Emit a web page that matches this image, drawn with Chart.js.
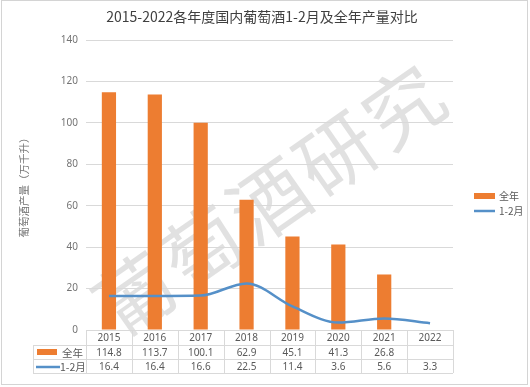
<!DOCTYPE html>
<html lang="zh">
<head>
<meta charset="UTF-8">
<title>2015-2022各年度国内葡萄酒1-2月及全年产量对比</title>
<script src="https://cdn.jsdelivr.net/npm/chart.js"></script>
    <style>
        * {
        margin: 0;
        padding: 0;
        box-sizing: border-box;
        }

        body {
        width: 530px;
        height: 387px;
        background: #fff;
        overflow: hidden;
        position: relative;
        }

        .frame {
        position: absolute;
        left: 1px;
        top: 0;
        width: 527px;
        height: 385px;
        border: 1px solid #d4d4d4;
        }

        .mark {
        position: absolute;
        left: 268px;
        top: 196px;
        transform: translate(-50%, -50%) rotate(-35deg);
        font-family: 'Noto Sans CJK SC', sans-serif;
        font-size: 78px;
        letter-spacing: 4px;
        color: rgba(195, 195, 195, 0.5);
        white-space: nowrap;
        }

        canvas {
        position: absolute;
        left: 0;
        top: 0;
        }
    </style>
</head>
<body>
    <div class="frame"></div>
    <div class="mark">葡萄酒研究</div>
    <canvas id="chart" width="530" height="387"></canvas>

    <script>
        const title = '2015-2022各年度国内葡萄酒1-2月及全年产量对比';
        const years = ['2015', '2016', '2017', '2018', '2019', '2020', '2021', '2022'];
        const fullYear = [114.8, 113.7, 100.1, 62.9, 45.1, 41.3, 26.8, null];
        const janFeb = [16.4, 16.4, 16.6, 22.5, 11.4, 3.6, 5.6, 3.3];
        const yTicks = [0, 20, 40, 60, 80, 100, 120, 140];

        const orange = '#ed7d31';
        const blue = '#5590c8';
        const gridColor = '#d9d9d9';
        const textColor = '#595959';
        const tickColor = '#747474';
        const cjk = "'Noto Sans CJK SC', sans-serif";

        // table under the plot + legend on the right, drawn from the scales
        const tablePlugin = {
        id: 'table',
        afterDraw(chart) {
            const ctx = chart.ctx;
            const x = chart.scales.x;
            const area = chart.chartArea;
            const colW = (area.right - area.left) / years.length;
            const rows = [area.bottom, area.bottom + 15, area.bottom + 29, area.bottom + 43];
            const legLeft = 33;

            ctx.save();
            ctx.strokeStyle = gridColor;
            ctx.lineWidth = 1;
            ctx.beginPath();
            ctx.moveTo(area.left, rows[0] + 0.5);
            ctx.lineTo(area.right, rows[0] + 0.5);
            for (let r = 1; r < rows.length; r++) {
            ctx.moveTo(legLeft, rows[r] + 0.5);
            ctx.lineTo(area.right, rows[r] + 0.5);
            }
            for (let i = 0; i <= years.length; i++) {
            const px = Math.round(area.left + i * colW) + 0.5;
            ctx.moveTo(px, rows[0]);
            ctx.lineTo(px, rows[3]);
            }
            ctx.moveTo(legLeft + 0.5, rows[1]);
            ctx.lineTo(legLeft + 0.5, rows[3]);
            ctx.stroke();

            ctx.fillStyle = textColor;
            ctx.font = "10px 'Noto Sans', sans-serif";
            ctx.textAlign = 'center';
            ctx.textBaseline = 'middle';
            years.forEach((y, i) => {
            const cx = x.getPixelForValue(i);
            ctx.fillText(y, cx, (rows[0] + rows[1]) / 2 + 1);
            if (fullYear[i] !== null) ctx.fillText(fullYear[i].toFixed(1), cx, (rows[1] + rows[2]) / 2 + 1);
            if (janFeb[i] !== null) ctx.fillText(janFeb[i].toFixed(1), cx, (rows[2] + rows[3]) / 2 + 1);
            });

            // legend keys inside the table
            const r1 = (rows[1] + rows[2]) / 2;
            const r2 = (rows[2] + rows[3]) / 2;
            ctx.fillStyle = orange;
            ctx.fillRect(37, r1 - 3, 20, 6);
            ctx.strokeStyle = blue;
            ctx.lineWidth = 2.5;
            ctx.beginPath();
            ctx.moveTo(36, r2 + 1);
            ctx.lineTo(60, r2 + 1);
            ctx.stroke();
            ctx.fillStyle = textColor;
            ctx.textAlign = 'left';
            ctx.font = '10.5px ' + cjk;
            ctx.fillText('全年', 62, r1 + 1);
            ctx.fillText('1-2月', 60, r2 + 1);

            // legend on the right
            ctx.fillStyle = orange;
            ctx.fillRect(474, 193, 21, 6);
            ctx.strokeStyle = blue;
            ctx.beginPath();
            ctx.moveTo(474, 211);
            ctx.lineTo(495, 211);
            ctx.stroke();
            ctx.fillStyle = textColor;
            ctx.font = '10px ' + cjk;
            ctx.fillText('全年', 499, 196);
            ctx.fillText('1-2月', 499, 211);

            // title
            ctx.fillStyle = '#404040';
            ctx.textAlign = 'center';
            ctx.font = '14px ' + cjk;
            ctx.fillText(title, 262, 17);
            ctx.restore();
        }
        };

        new Chart(document.getElementById('chart'), {
        data: {
            labels: years,
            datasets: [
            {
                type: 'line',
                label: '1-2月',
                data: janFeb,
                borderColor: blue,
                borderWidth: 2.5,
                pointRadius: 0,
                cubicInterpolationMode: 'monotone',
                order: 0
            },
            {
                type: 'bar',
                label: '全年',
                data: fullYear,
                backgroundColor: orange,
                categoryPercentage: 1,
                barPercentage: 0.31,
                order: 1
            }
            ]
        },
        options: {
            responsive: false,
            animation: false,
            layout: {
            padding: { left: 14, top: 40, right: 77, bottom: 57 }
            },
            plugins: {
            legend: { display: false },
            tooltip: { enabled: false }
            },
            scales: {
            x: {
                display: false
            },
            y: {
                min: 0,
                max: 140,
                afterBuildTicks: (s) => { s.ticks = yTicks.map(v => ({ value: v })); },
                afterFit: (s) => { s.width = 72; },
                grid: { color: gridColor, drawTicks: false },
                border: { display: false },
                ticks: {
                color: tickColor,
                padding: 8,
                font: { size: 10, family: "'Noto Sans', sans-serif" }
                },
                title: {
                display: true,
                text: '葡萄酒产量（万千升）',
                color: tickColor,
                font: { size: 10.5, family: cjk },
                padding: { top: 4, bottom: 0 }
                }
            }
            }
        },
        plugins: [tablePlugin]
        });
    </script>
</body>
</html>
